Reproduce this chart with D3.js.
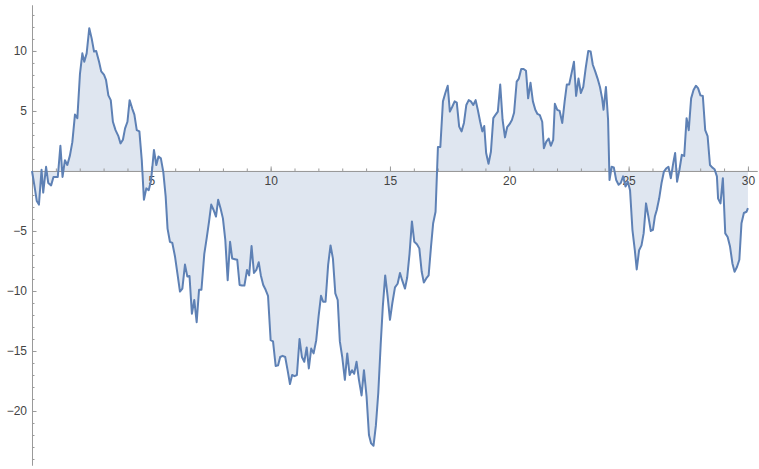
<!DOCTYPE html>
<html>
<head>
<meta charset="utf-8">
<script src="https://cdn.jsdelivr.net/npm/d3@7"></script>
<style>
  body { margin: 0; background: #fff; }
</style>
</head>
<body>
<div class="chart"></div>
<script>
// random-walk samples
const xs = [0, 0.1, 0.2, 0.29, 0.4, 0.47, 0.59, 0.68, 0.8, 0.9, 1.08, 1.19, 1.28, 1.38, 1.48, 1.59, 1.69, 1.8, 1.9,
  2.01, 2.11, 2.19, 2.29, 2.4, 2.5, 2.6, 2.69, 2.81, 2.9, 3.02, 3.1, 3.2, 3.3, 3.39, 3.5, 3.62, 3.71, 3.81, 3.9,
  4.0, 4.09, 4.2, 4.29, 4.39, 4.5, 4.6, 4.69, 4.79, 4.89, 4.99, 5.11, 5.21, 5.3, 5.4, 5.5, 5.6, 5.68, 5.78, 5.88,
  5.99, 6.09, 6.2, 6.3, 6.41, 6.51, 6.6, 6.7, 6.8, 6.9, 7.0, 7.1, 7.22, 7.32, 7.42, 7.51, 7.61, 7.71, 7.8, 7.9,
  8.0, 8.1, 8.2, 8.3, 8.39, 8.5, 8.6, 8.7, 8.8, 8.9, 9.01, 9.1, 9.2, 9.3, 9.4, 9.5, 9.59, 9.69, 9.79, 9.89,
  10.0, 10.1, 10.21, 10.31, 10.4, 10.5, 10.61, 10.71, 10.81, 10.9, 11.0, 11.1, 11.21, 11.31, 11.41, 11.51, 11.6,
  11.7, 11.8, 11.91, 12.01, 12.11, 12.2, 12.3, 12.41, 12.51, 12.61, 12.71, 12.81, 12.9, 13.0, 13.11, 13.21, 13.31,
  13.41, 13.5, 13.6, 13.7, 13.81, 13.91, 14.02, 14.12, 14.21, 14.31, 14.41, 14.51, 14.61, 14.7, 14.8, 14.9, 15.0,
  15.1, 15.21, 15.32, 15.42, 15.51, 15.63, 15.72, 15.82, 15.92, 16.02, 16.13, 16.23, 16.33, 16.42, 16.52, 16.62,
  16.72, 16.81, 16.91, 17.01, 17.11, 17.22, 17.32, 17.42, 17.51, 17.61, 17.71, 17.8, 17.9, 18.0, 18.1, 18.2, 18.3,
  18.39, 18.49, 18.59, 18.68, 18.78, 18.87, 18.95, 19.03, 19.13, 19.23, 19.33, 19.43, 19.52, 19.62, 19.72, 19.82,
  19.91, 20.01, 20.11, 20.2, 20.31, 20.4, 20.5, 20.6, 20.7, 20.79, 20.89, 20.99, 21.09, 21.18, 21.28, 21.38, 21.45,
  21.55, 21.65, 21.74, 21.84, 21.91, 22.01, 22.11, 22.22, 22.32, 22.41, 22.51, 22.61, 22.71, 22.8, 22.9, 23.0,
  23.1, 23.2, 23.31, 23.41, 23.5, 23.6, 23.7, 23.8, 23.89, 23.95, 24.05, 24.14, 24.2, 24.29, 24.38, 24.48, 24.58,
  24.67, 24.77, 24.87, 24.97, 25.06, 25.16, 25.26, 25.34, 25.44, 25.54, 25.63, 25.73, 25.83, 25.93, 26.02, 26.1,
  26.18, 26.28, 26.38, 26.48, 26.57, 26.67, 26.77, 26.87, 26.95, 27.03, 27.13, 27.23, 27.33, 27.43, 27.52, 27.62,
  27.72, 27.82, 27.91, 28.01, 28.11, 28.21, 28.31, 28.41, 28.5, 28.6, 28.7, 28.75, 28.85, 28.95, 29.05, 29.15,
  29.25, 29.35, 29.44, 29.54, 29.64, 29.73, 29.83, 29.94, 30.0];
const ys = [0, -1.2, -2.5, -2.8, 0.1, -1.8, 0.35, -1.0, -1.2, -0.5, -0.5, 2.1, -0.5, 0.9, 0.5, 1.3, 2.4, 4.7, 4.4,
  8.1, 9.8, 9.1, 9.8, 11.9, 11.05, 9.95, 10.0, 9.1, 8.3, 8.0, 7.6, 6.3, 5.9, 4.1, 3.4, 2.9, 2.3, 2.6, 3.55,
  4.1, 5.9, 5.2, 4.7, 3.4, 3.3, 0.9, -2.4, -1.45, -1.6, -0.8, 1.75, 0.5, 1.2, 1.05, -0.05, -2.1, -4.8, -5.9, -6.0,
  -7.1, -8.5, -10.05, -9.8, -7.8, -8.8, -8.75, -11.9, -10.75, -12.6, -9.9, -9.9, -6.9, -5.6, -4.2, -2.8, -3.25, -3.8, -2.4, -3.1,
  -3.95, -5.75, -9.1, -5.9, -7.3, -7.35, -7.4, -9.5, -9.55, -9.55, -8.25, -8.7, -6.25, -8.5, -8.25, -7.6, -8.7, -9.5, -9.9, -10.4,
  -14.1, -14.2, -16.25, -16.2, -15.5, -15.4, -15.5, -16.6, -17.75, -17.0, -17.1, -17.0, -14.0, -15.5, -15.9, -14.7, -16.45,
  -14.8, -15.2, -14.1, -12.1, -10.4, -10.9, -10.9, -7.8, -6.2, -7.3, -10.2, -10.75, -14.2, -15.5, -17.4, -15.2, -17.0,
  -16.6, -16.9, -15.9, -17.4, -18.7, -16.6, -18.8, -22.0, -22.7, -22.9, -21.2, -18.5, -14.5, -11.3, -8.7, -10.4, -12.4,
  -11.0, -9.7, -9.4, -8.5, -9.1, -9.8, -8.9, -6.9, -4.2, -5.9, -6.1, -6.45, -8.4, -9.3, -8.95, -8.7,
  -6.3, -4.35, -3.4, 2.0, 2.0, 5.8, 6.5, 7.1, 4.95, 5.35, 5.8, 5.7, 3.7, 3.3, 4.0, 5.5, 5.9,
  5.8, 5.5, 5.9, 5.1, 4.1, 3.3, 3.75, 1.5, 0.6, 1.6, 4.4, 4.7, 4.95, 7.2, 4.25, 2.8,
  3.65, 3.9, 4.25, 4.85, 7.45, 7.7, 8.5, 8.5, 8.35, 6.05, 7.35, 5.8, 5.1, 4.75, 4.65, 4.1, 1.9,
  2.45, 2.7, 2.1, 2.6, 5.6, 5.1, 5.0, 4.0, 5.8, 7.2, 7.2, 8.15, 9.1, 6.25, 7.7, 6.5,
  7.0, 8.55, 10.0, 9.95, 8.85, 8.3, 7.7, 7.0, 6.05, 5.1, 7.0, 4.25, -0.75, 0.35, 0.3, -0.75, -1.15,
  -1.0, -0.45, -1.3, -0.9, -1.6, -4.9, -6.6, -8.2, -6.6, -6.2, -5.2, -2.7, -3.8, -5.0, -4.9, -3.8,
  -3.25, -2.3, -1.0, -0.05, 0.2, 0.35, -0.6, 0.65, 1.5, -0.9, 0.1, 1.35, 1.25, 4.4, 3.4, 6.05,
  6.75, 7.1, 6.9, 6.3, 6.25, 3.4, 2.9, 0.5, 0.3, 0.15, -0.45, -2.3, -2.7, -0.6, -5.2, -5.5,
  -6.3, -7.7, -8.4, -8.0, -7.4, -4.35, -3.5, -3.4, -3.1];

const xTicks = [5, 10, 15, 20, 25, 30];
const yTicks = [-20, -15, -10, -5, 5, 10];

let width = 759;
let height = 469;

let svg = d3.select('.chart')
  .append('svg')
    .attr('width', width)
    .attr('height', height)
    .style('font-family', 'Liberation Sans, Arial, sans-serif');

let data = xs.map((x, i) => [x, ys[i]]);

// x axis runs a bit past 30, y axis spans the whole plot height
let xScale = d3.scaleLinear()
  .domain([0, 30.38])
  .range([32, 757]);

let yScale = d3.scaleLinear()
  .domain([-24.5, 13.83])
  .range([465, 5]);

let area = d3.area()
  .x(d => xScale(d[0]))
  .y0(yScale(0))
  .y1(d => yScale(d[1]));

let line = d3.line()
  .x(d => xScale(d[0]))
  .y(d => yScale(d[1]));

svg.append('path')
  .datum(data)
  .attr('d', area)
  .style('fill', '#dfe6f0');

// minor ticks every 1
let minorX = d3.axisBottom(xScale)
  .tickValues(d3.range(1, 31))
  .tickSizeInner(-2.5)
  .tickSizeOuter(0)
  .tickFormat('');
let minorY = d3.axisLeft(yScale)
  .tickValues(d3.range(-24, 14))
  .tickSizeInner(-2.5)
  .tickSizeOuter(0)
  .tickFormat('');

let xAxis = d3.axisBottom(xScale)
  .tickValues(xTicks)
  .tickSizeInner(-4.5)
  .tickSizeOuter(0)
  .tickPadding(6)
  .tickFormat(d3.format('d'));
let yAxis = d3.axisLeft(yScale)
  .tickValues(yTicks)
  .tickSizeInner(-4.5)
  .tickSizeOuter(0)
  .tickPadding(5)
  .tickFormat(d => d < 0 ? '\u2212' + Math.abs(d) : d);

let gx = svg.append('g')
  .attr('transform', `translate(0, ${yScale(0)})`);
gx.append('g').call(minorX);
gx.append('g').call(xAxis);

let gy = svg.append('g')
  .attr('transform', `translate(${xScale(0)}, 0)`);
gy.append('g').call(minorY);
gy.append('g').call(yAxis);

svg.selectAll('.domain, .tick line')
  .style('stroke', '#9a9a9a')
  .style('stroke-width', 1);
svg.selectAll('.tick text')
  .style('font-size', '12px')
  .style('fill', '#444');

svg.append('path')
  .datum(data)
  .attr('d', line)
  .style('fill', 'none')
  .style('stroke', '#5e81b5')
  .style('stroke-width', 2)
  .style('stroke-linejoin', 'round');
</script>
</body>
</html>
